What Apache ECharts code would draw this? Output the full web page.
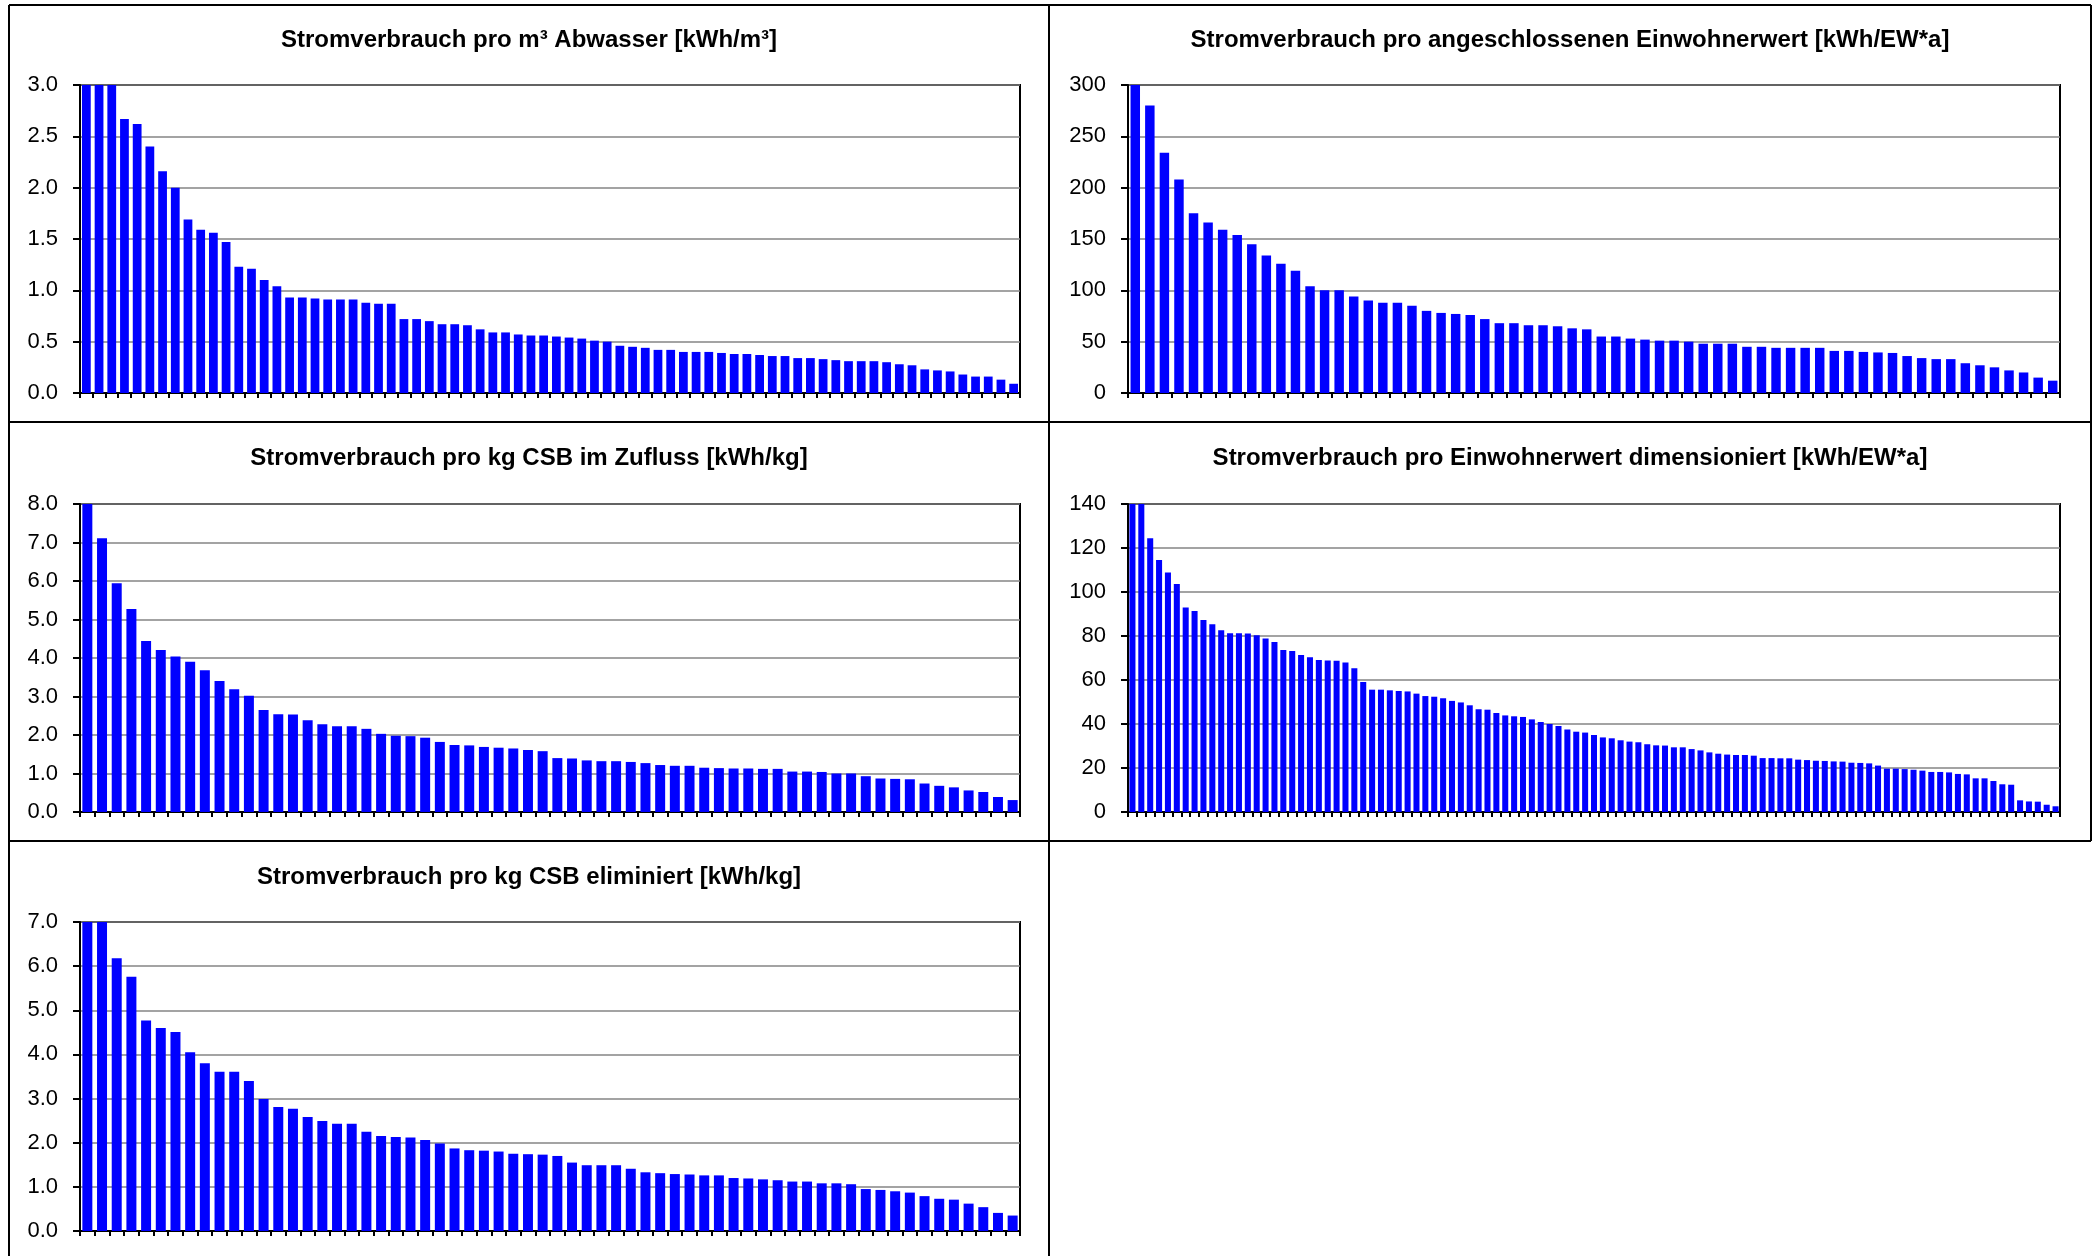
<!DOCTYPE html>
<html>
<head>
<meta charset="utf-8">
<title>Stromverbrauch Kennzahlen</title>
<script src="https://cdn.jsdelivr.net/npm/echarts@6/dist/echarts.min.js"></script>
<style>
  html, body { margin: 0; padding: 0; background: #fff; }
  #chart { width: 2099px; height: 1256px; }
</style>
</head>
<body>
<div id="chart"></div>
<script>
// Sorted specific electricity consumption per plant, one array per indicator.
// The first bars exceed the axis maximum and are clipped at the top.

const titleAbwasser = 'Stromverbrauch pro m³ Abwasser [kWh/m³]';
const valuesAbwasser = [
  3.9, 3.5, 3.1, 2.67, 2.62, 2.40, 2.16, 2.00, 1.69, 1.59,
  1.56, 1.47, 1.23, 1.21, 1.10, 1.04, 0.93, 0.93, 0.92, 0.91,
  0.91, 0.91, 0.88, 0.87, 0.87, 0.72, 0.72, 0.70, 0.67, 0.67,
  0.66, 0.62, 0.59, 0.59, 0.57, 0.56, 0.56, 0.55, 0.54, 0.53,
  0.51, 0.50, 0.46, 0.45, 0.44, 0.42, 0.42, 0.40, 0.40, 0.40,
  0.39, 0.38, 0.38, 0.37, 0.36, 0.36, 0.34, 0.34, 0.33, 0.32,
  0.31, 0.31, 0.31, 0.30, 0.28, 0.27, 0.23, 0.22, 0.21, 0.18,
  0.16, 0.16, 0.13, 0.09
];
const ticksAbwasser = { max: 3, interval: 0.5, decimals: 1 };

const titleEwAngeschlossen = 'Stromverbrauch pro angeschlossenen Einwohnerwert [kWh/EW*a]';
const valuesEwAngeschlossen = [
  330, 280, 234, 208, 175, 166, 159, 154, 145, 134,
  126, 119, 104, 100, 100, 94, 90, 88, 88, 85,
  80, 78, 77, 76, 72, 68, 68, 66, 66, 65,
  63, 62, 55, 55, 53, 52, 51, 51, 50, 48,
  48, 48, 45, 45, 44, 44, 44, 44, 41, 41,
  40, 39.5, 39, 36, 34, 33, 33, 29, 27, 25,
  22, 20, 15, 12
];
const ticksEwAngeschlossen = { max: 300, interval: 50, decimals: 0 };

const titleCsbZufluss = 'Stromverbrauch pro kg CSB im Zufluss [kWh/kg]';
const valuesCsbZufluss = [
  8.6, 7.11, 5.94, 5.27, 4.44, 4.21, 4.04, 3.90, 3.68, 3.40,
  3.19, 3.02, 2.65, 2.54, 2.53, 2.38, 2.28, 2.23, 2.23, 2.16,
  2.03, 1.98, 1.97, 1.93, 1.82, 1.74, 1.73, 1.69, 1.67, 1.65,
  1.61, 1.58, 1.40, 1.39, 1.34, 1.32, 1.32, 1.30, 1.27, 1.22,
  1.20, 1.20, 1.15, 1.14, 1.13, 1.13, 1.12, 1.12, 1.05, 1.05,
  1.04, 1.00, 1.00, 0.93, 0.87, 0.86, 0.85, 0.74, 0.68, 0.64,
  0.56, 0.52, 0.39, 0.31
];
const ticksCsbZufluss = { max: 8, interval: 1, decimals: 1 };

const titleEwDimensioniert = 'Stromverbrauch pro Einwohnerwert dimensioniert [kWh/EW*a]';
const valuesEwDimensioniert = [
  150, 145, 124.4, 114.5, 108.9, 103.6, 93.0, 91.4, 87.3, 85.3,
  82.6, 81.2, 81.2, 81.1, 80.3, 78.9, 77.3, 73.6, 73.2, 71.4,
  70.3, 69.1, 68.9, 68.8, 67.9, 65.3, 59.1, 55.6, 55.6, 55.3,
  55.0, 54.8, 53.8, 52.7, 52.4, 51.7, 50.5, 49.8, 48.5, 46.7,
  46.5, 45.0, 43.9, 43.5, 43.2, 42.1, 40.9, 40.0, 39.1, 37.5,
  36.5, 36.1, 35.0, 33.9, 33.5, 32.6, 32.0, 31.7, 30.8, 30.3,
  30.2, 29.4, 29.4, 28.6, 28.0, 27.1, 26.5, 26.1, 25.9, 25.9,
  25.6, 24.5, 24.5, 24.4, 24.4, 23.8, 23.6, 23.3, 23.2, 23.0,
  22.9, 22.4, 22.3, 22.1, 21.1, 19.7, 19.7, 19.5, 19.2, 18.8,
  18.2, 18.2, 18.0, 17.3, 17.1, 15.3, 15.3, 14.1, 12.6, 12.4,
  5.3, 4.8, 4.7, 3.3, 2.6
];
const ticksEwDimensioniert = { max: 140, interval: 20, decimals: 0 };

const titleCsbEliminiert = 'Stromverbrauch pro kg CSB eliminiert [kWh/kg]';
const valuesCsbEliminiert = [
  8.5, 7.6, 6.18, 5.76, 4.77, 4.60, 4.51, 4.05, 3.80, 3.61,
  3.61, 3.40, 2.99, 2.81, 2.77, 2.58, 2.49, 2.43, 2.43, 2.25,
  2.15, 2.13, 2.12, 2.06, 1.98, 1.87, 1.83, 1.82, 1.80, 1.75,
  1.74, 1.73, 1.70, 1.55, 1.49, 1.49, 1.49, 1.41, 1.33, 1.31,
  1.29, 1.28, 1.26, 1.26, 1.20, 1.19, 1.17, 1.15, 1.12, 1.12,
  1.08, 1.08, 1.06, 0.95, 0.93, 0.90, 0.87, 0.79, 0.73, 0.71,
  0.62, 0.54, 0.41, 0.35
];
const ticksCsbEliminiert = { max: 7, interval: 1, decimals: 1 };

// Panel layout: plot rectangle and title centre for each diagram
const panels = [
  { title: titleAbwasser,        values: valuesAbwasser,        ticks: ticksAbwasser,        grid: { left: 80,   top: 85,  width: 940, height: 308 }, tx: 529,  ty: 40,  gap: '31%' },
  { title: titleEwAngeschlossen, values: valuesEwAngeschlossen, ticks: ticksEwAngeschlossen, grid: { left: 1128, top: 85,  width: 932, height: 308 }, tx: 1570, ty: 40,  gap: '35%' },
  { title: titleCsbZufluss,      values: valuesCsbZufluss,      ticks: ticksCsbZufluss,      grid: { left: 80,   top: 504, width: 940, height: 308 }, tx: 529,  ty: 458, gap: '32%' },
  { title: titleEwDimensioniert, values: valuesEwDimensioniert, ticks: ticksEwDimensioniert, grid: { left: 1128, top: 504, width: 932, height: 308 }, tx: 1570, ty: 458, gap: '32%' },
  { title: titleCsbEliminiert,   values: valuesCsbEliminiert,   ticks: ticksCsbEliminiert,   grid: { left: 80,   top: 922, width: 940, height: 309 }, tx: 529,  ty: 877, gap: '32%' }
];

const labelFont = 'Liberation Sans, Arial, sans-serif';

const grids = [], xAxes = [], yAxes = [], series = [], graphics = [];

panels.forEach((p, i) => {
  grids.push(Object.assign({
    show: true, borderColor: '#000', borderWidth: 2, backgroundColor: '#fff'
  }, p.grid));

  xAxes.push({
    type: 'category',
    gridIndex: i,
    data: p.values.map((_, k) => String(k + 1)),
    boundaryGap: true,
    axisLine: { show: true, lineStyle: { color: '#000', width: 2 } },
    axisTick: { show: true, length: 5, lineStyle: { color: '#000', width: 2 }, interval: 0 },
    axisLabel: { show: false },
    splitLine: { show: false }
  });

  yAxes.push({
    type: 'value',
    gridIndex: i,
    min: 0,
    max: p.ticks.max,
    interval: p.ticks.interval,
    axisLine: { show: true, lineStyle: { color: '#000', width: 2 } },
    axisTick: { show: true, length: 7, lineStyle: { color: '#000', width: 2 } },
    axisLabel: {
      color: '#000',
      fontFamily: labelFont,
      fontSize: 22,
      margin: 22,
      formatter: v => v.toFixed(p.ticks.decimals)
    },
    splitLine: { show: true, lineStyle: { color: '#848484', width: 1.5 } }
  });

  series.push({
    type: 'bar',
    xAxisIndex: i,
    yAxisIndex: i,
    data: p.values,
    clip: true,
    barCategoryGap: p.gap,
    itemStyle: { color: '#0000ff' },
    silent: true,
    animation: false
  });

  graphics.push({
    type: 'text',
    x: p.tx,
    y: p.ty,
    style: {
      text: p.title,
      fill: '#000',
      font: 'bold 24px ' + labelFont,
      textAlign: 'center',
      textVerticalAlign: 'middle'
    }
  });
});

// Frame lines separating the five diagram panels
const frame = [
  [9, 5, 2091, 5], [9, 422, 2091, 422], [9, 841, 2091, 841],
  [9, 5, 9, 1256], [1049, 5, 1049, 1256], [2091, 5, 2091, 841]
];
frame.forEach(([x1, y1, x2, y2]) => {
  graphics.push({
    type: 'line',
    shape: { x1, y1, x2, y2 },
    style: { stroke: '#000', lineWidth: 2 },
    z: 10
  });
});

const chart = echarts.init(document.getElementById('chart'), null, { renderer: 'canvas' });
chart.setOption({
  animation: false,
  backgroundColor: '#fff',
  grid: grids,
  xAxis: xAxes,
  yAxis: yAxes,
  series: series,
  graphic: graphics
});
</script>
</body>
</html>
